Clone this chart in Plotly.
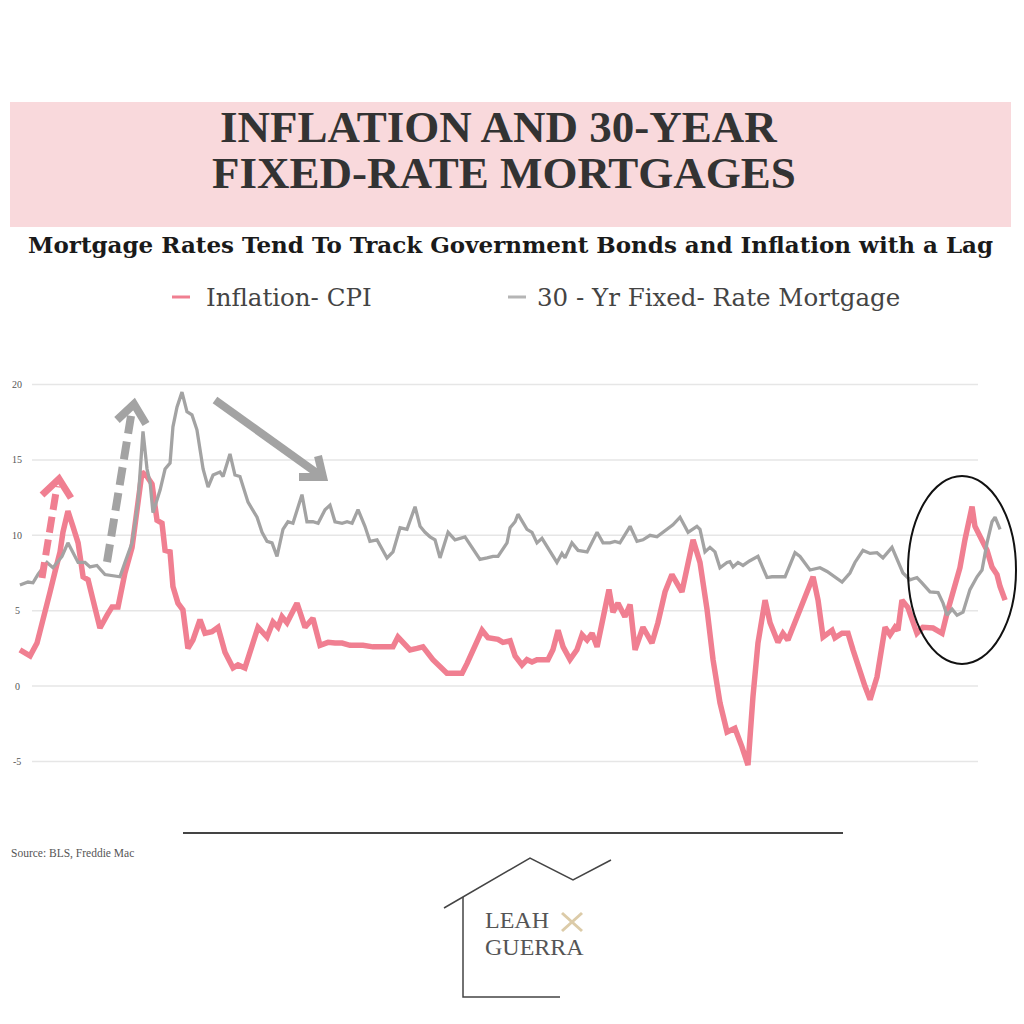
import plotly.graph_objects as go

# ---------------- data ----------------
cpi_year = [1971.10, 1971.63, 1971.99, 1972.25, 1972.41, 1972.67, 1972.93, 1973.19, 1973.34, 1973.60,
            1973.86, 1974.13, 1974.39, 1974.65, 1974.91, 1975.27, 1975.64, 1975.90, 1976.21, 1976.57,
            1976.94, 1977.09, 1977.25, 1977.46, 1977.72, 1977.98, 1978.24, 1978.50, 1978.66, 1978.92,
            1979.07, 1979.33, 1979.59, 1979.85, 1980.11, 1980.48, 1980.74, 1981.10, 1981.42, 1981.78,
            1982.20, 1982.46, 1982.82, 1983.19, 1983.50, 1983.97, 1984.28, 1984.54, 1984.75, 1985.01,
            1985.53, 1985.95, 1986.36, 1986.73, 1987.15, 1987.51, 1987.88, 1988.29, 1988.97, 1989.49,
            1990.53, 1990.79, 1991.05, 1991.42, 1991.78, 1992.09, 1992.61, 1993.34, 1993.76, 1994.13,
            1994.39, 1994.70, 1995.17, 1995.48, 1996.00, 1996.26, 1996.63, 1996.89, 1997.25, 1997.51,
            1997.77, 1998.03, 1998.60, 1998.86, 1999.13, 1999.39, 1999.75, 2000.11, 2000.38, 2000.64,
            2000.90, 2001.16, 2001.47, 2001.78, 2001.99, 2002.25, 2002.61, 2002.88, 2003.14, 2003.55,
            2004.02, 2004.33, 2004.70, 2005.06, 2005.58, 2005.90, 2006.16, 2006.52, 2006.89, 2007.20,
            2007.56, 2007.93, 2008.34, 2008.71, 2009.02, 2009.28, 2009.54, 2009.91, 2010.17, 2010.58,
            2010.84, 2011.10, 2011.57, 2011.99, 2012.41, 2012.67, 2012.93, 2013.40, 2013.55, 2013.92,
            2014.23, 2014.49, 2014.85, 2015.11, 2015.38, 2015.74, 2016.16, 2016.42, 2016.68, 2016.83,
            2017.04, 2017.35, 2017.82, 2018.13, 2018.66, 2019.13, 2019.39, 2019.70, 2020.06, 2020.32,
            2020.69, 2020.84, 2021.21, 2021.47, 2021.73, 2021.99, 2022.15, 2022.41]
cpi_value = [2.4, 2.0, 2.85, 4.05, 5.05, 6.25, 7.6, 8.9, 10.2, 11.6,
             10.6, 9.5, 7.25, 7.05, 5.7, 3.85, 4.7, 5.25, 5.25, 7.5,
             9.2, 10.6, 12.2, 14.2, 13.9, 13.4, 11.0, 10.8, 9.0, 8.9,
             6.6, 5.5, 5.05, 2.5, 3.05, 4.4, 3.5, 3.6, 3.9, 2.25,
             1.2, 1.4, 1.2, 2.85, 3.9, 3.25, 4.25, 3.9, 4.6, 4.2,
             5.5, 3.9, 4.5, 2.7, 2.9, 2.85, 2.85, 2.7, 2.7, 2.6,
             2.6, 3.25, 2.85, 2.4, 2.5, 2.6, 1.75, 0.85, 0.85, 0.85,
             1.5, 2.4, 3.7, 3.2, 3.1, 2.9, 3.0, 2.0, 1.4, 1.75,
             1.6, 1.75, 1.75, 2.4, 3.7, 2.6, 1.75, 2.4, 3.4, 3.05,
             3.5, 2.6, 4.7, 6.4, 4.9, 5.5, 4.6, 5.4, 2.4, 3.9,
             2.85, 4.2, 6.25, 7.4, 6.25, 8.3, 9.7, 8.2, 5.05, 1.75,
             -1.1, -3.05, -2.8, -4.05, -5.25, -0.7, 2.85, 5.7, 4.2, 2.9,
             3.5, 3.05, 4.5, 5.85, 7.25, 5.7, 3.25, 3.7, 3.2, 3.5,
             3.5, 2.4, 0.9, 0.0, -0.9, 0.6, 3.9, 3.4, 3.9, 3.7,
             5.7, 5.2, 3.5, 3.9, 3.85, 3.5, 4.85, 6.4, 7.85, 9.7,
             11.9, 10.6, 9.6, 9.0, 7.9, 7.4, 6.6, 5.7]

mort_year = [1971.10, 1971.52, 1971.78, 1972.04, 1972.51, 1972.82, 1973.29, 1973.60, 1974.13, 1974.49,
             1974.75, 1975.11, 1975.53, 1975.95, 1976.31, 1976.57, 1976.94, 1977.09, 1977.25, 1977.51,
             1977.72, 1977.88, 1978.03, 1978.40, 1978.66, 1978.92, 1979.07, 1979.28, 1979.54, 1979.80,
             1980.06, 1980.32, 1980.64, 1980.90, 1981.16, 1981.52, 1981.68, 1982.04, 1982.30, 1982.56,
             1982.98, 1983.45, 1983.71, 1983.97, 1984.23, 1984.49, 1984.80, 1985.06, 1985.32, 1985.79,
             1986.05, 1986.36, 1986.63, 1986.99, 1987.25, 1987.51, 1987.88, 1988.14, 1988.40, 1988.71,
             1989.07, 1989.33, 1989.70, 1990.22, 1990.53, 1990.90, 1991.26, 1991.68, 1991.94, 1992.20,
             1992.46, 1992.72, 1992.98, 1993.40, 1993.76, 1994.28, 1994.65, 1995.06, 1995.43, 1995.74,
             1996.00, 1996.47, 1996.63, 1996.89, 1997.04, 1997.51, 1997.77, 1998.03, 1998.29, 1998.60,
             1999.07, 1999.33, 1999.49, 1999.85, 2000.17, 2000.64, 2001.16, 2001.47, 2001.83, 2002.09,
             2002.35, 2002.88, 2003.24, 2003.55, 2003.92, 2004.28, 2004.59, 2005.11, 2005.48, 2005.90,
             2006.36, 2006.52, 2006.78, 2007.04, 2007.30, 2007.56, 2007.93, 2008.08, 2008.24, 2008.50,
             2008.76, 2009.10, 2009.54, 2010.01, 2010.27, 2010.95, 2011.47, 2011.73, 2012.25, 2012.77,
             2013.14, 2013.92, 2014.33, 2014.59, 2015.01, 2015.38, 2015.74, 2016.05, 2016.52, 2017.09,
             2017.46, 2017.82, 2018.08, 2018.50, 2018.92, 2019.18, 2019.39, 2019.65, 2019.91, 2020.22,
             2020.58, 2020.95, 2021.21, 2021.47, 2021.73, 2021.89, 2022.15]
mort_value = [6.7, 6.9, 6.85, 7.4, 8.2, 7.85, 8.6, 9.5, 8.2, 8.2,
              7.9, 8.0, 7.4, 7.3, 7.25, 8.2, 9.5, 10.8, 12.2, 16.9,
              14.4, 13.5, 11.5, 13.0, 14.4, 14.8, 17.2, 18.5, 19.5, 18.2,
              18.0, 17.0, 14.4, 13.2, 14.0, 14.2, 13.9, 15.4, 14.0, 13.9,
              12.2, 11.2, 10.2, 9.6, 9.5, 8.6, 10.4, 10.9, 10.8, 12.7,
              10.9, 10.9, 10.8, 11.7, 12.0, 10.9, 10.8, 10.9, 10.8, 11.7,
              10.6, 9.6, 9.7, 8.5, 8.9, 10.5, 10.4, 11.9, 10.6, 10.2,
              9.9, 9.7, 8.5, 10.2, 9.7, 9.9, 9.2, 8.4, 8.5, 8.6,
              8.6, 9.5, 10.5, 10.9, 11.4, 10.4, 10.2, 9.5, 9.8, 9.2,
              8.2, 8.8, 8.5, 9.5, 9.0, 8.9, 10.2, 9.5, 9.5, 9.6,
              9.5, 10.6, 9.6, 9.7, 10.0, 9.9, 10.2, 10.7, 11.2, 10.2,
              10.6, 10.4, 8.9, 9.2, 8.9, 7.85, 8.2, 8.25, 7.9, 8.2,
              8.0, 8.3, 8.6, 7.2, 7.25, 7.25, 8.85, 8.6, 7.7, 7.85,
              7.6, 6.9, 7.5, 8.2, 9.0, 8.8, 8.85, 8.5, 9.2, 7.5,
              7.05, 7.2, 6.85, 6.25, 6.2, 5.5, 4.7, 5.1, 4.7, 4.9,
              6.4, 7.25, 7.7, 9.5, 10.9, 11.2, 10.4]

y_ticks = [-5, 0, 5, 10, 15, 20]

title_lines = ["INFLATION AND 30-YEAR", "FIXED-RATE MORTGAGES"]
subtitle = "Mortgage Rates Tend To Track Government Bonds and Inflation with a Lag"
series_names = ["Inflation- CPI", "30 - Yr Fixed- Rate Mortgage"]
source_text = "Source: BLS, Freddie Mac"
logo_lines = ["LEAH", "GUERRA"]

# ---------------- style ----------------
PINK = "#F07F91"
GRAY = "#A3A3A3"
W = H = 1024


def fx(p):
    return p / W


def fy(p):
    return 1 - p / H


fig = go.Figure()
fig.add_trace(go.Scatter(x=cpi_year, y=cpi_value, mode="lines", name=series_names[0],
                         line=dict(color=PINK, width=5.5), showlegend=False, hoverinfo="skip"))
fig.add_trace(go.Scatter(x=mort_year, y=mort_value, mode="lines", name=series_names[1],
                         line=dict(color=GRAY, width=3.3), showlegend=False, hoverinfo="skip"))

shapes = []
annotations = []

# header band
shapes.append(dict(type="rect", xref="paper", yref="paper", x0=fx(10), x1=fx(1011), y0=fy(227), y1=fy(102),
                   fillcolor="#F9D9DC", line=dict(width=0), layer="below"))

# grid lines and tick labels
for t in y_ticks:
    shapes.append(dict(type="line", xref="paper", yref="y", x0=fx(32), x1=fx(978), y0=t, y1=t,
                       line=dict(color="#E6E6E6", width=1.5), layer="below"))
    annotations.append(dict(xref="paper", yref="y", x=fx(17), y=t, text=str(t), showarrow=False,
                            font=dict(family="Liberation Serif", size=10, color="#555555"),
                            xanchor="center", yanchor="middle"))


def seg(x0, y0, x1, y1, color, width, dash="solid"):
    return dict(type="line", xref="paper", yref="paper", x0=fx(x0), y0=fy(y0), x1=fx(x1), y1=fy(y1),
                line=dict(color=color, width=width, dash=dash))


def poly(points, color, width):
    d = "M " + " L ".join(f"{fx(a):.5f},{fy(b):.5f}" for a, b in points)
    return dict(type="path", xref="paper", yref="paper", path=d, line=dict(color=color, width=width))


# pink dashed arrow
shapes.append(seg(42, 578, 57, 486, PINK, 7, "16px,7px"))
shapes.append(poly([(42, 495), (59, 479), (71, 498)], PINK, 7))
# gray dashed arrow
shapes.append(seg(107, 562, 132, 410, GRAY, 8, "18px,8px"))
shapes.append(poly([(117, 420), (134, 404), (146, 424)], GRAY, 8))
# gray solid arrow
shapes.append(seg(215, 400, 321, 476, GRAY, 8))
shapes.append(poly([(299, 477), (323, 477), (318, 456)], GRAY, 8))
# ellipse
shapes.append(dict(type="circle", xref="paper", yref="paper", x0=fx(908), x1=fx(1016), y0=fy(664), y1=fy(476),
                   line=dict(color="#111111", width=2)))

# legend
shapes.append(seg(172, 297, 190, 297, PINK, 3))
shapes.append(seg(508, 297, 526, 297, "#B5B5B5", 3))
annotations.append(dict(xref="paper", yref="paper", x=fx(204), y=fy(297), text=series_names[0], showarrow=False,
                        xanchor="left", yanchor="middle",
                        font=dict(family="DejaVu Serif", size=24.5, color="#444444")))
annotations.append(dict(xref="paper", yref="paper", x=fx(535), y=fy(297), text=series_names[1], showarrow=False,
                        xanchor="left", yanchor="middle",
                        font=dict(family="DejaVu Serif", size=24.5, color="#444444")))

# title + subtitle
annotations.append(dict(xref="paper", yref="paper", x=fx(498), y=fy(127), text=title_lines[0], showarrow=False,
                        xanchor="center", yanchor="middle",
                        font=dict(family="Liberation Serif", size=45, color="#333333", weight="bold")))
annotations.append(dict(xref="paper", yref="paper", x=fx(504), y=fy(173), text=title_lines[1], showarrow=False,
                        xanchor="center", yanchor="middle",
                        font=dict(family="Liberation Serif", size=45, color="#333333", weight="bold")))
annotations.append(dict(xref="paper", yref="paper", x=fx(510), y=fy(244), text=subtitle, showarrow=False,
                        xanchor="center", yanchor="middle",
                        font=dict(family="DejaVu Serif", size=23, color="#1A1A1A", weight="bold")))

# footer
shapes.append(seg(183, 833, 843, 833, "#444444", 2))
annotations.append(dict(xref="paper", yref="paper", x=fx(9), y=fy(853), text=source_text, showarrow=False,
                        xanchor="left", yanchor="middle",
                        font=dict(family="Liberation Serif", size=11.5, color="#555555")))
# house logo
shapes.append(poly([(444, 908), (530, 858), (573, 880), (611, 860)], "#444444", 1.5))
shapes.append(poly([(463, 897), (463, 997), (560, 997)], "#444444", 1.5))
annotations.append(dict(xref="paper", yref="paper", x=fx(483), y=fy(920), text=logo_lines[0], showarrow=False,
                        xanchor="left", yanchor="middle",
                        font=dict(family="Liberation Serif", size=24, color="#555555")))
annotations.append(dict(xref="paper", yref="paper", x=fx(483), y=fy(947), text=logo_lines[1], showarrow=False,
                        xanchor="left", yanchor="middle",
                        font=dict(family="Liberation Serif", size=24, color="#555555")))
shapes.append(seg(562, 913, 582, 931, "#DCCBA8", 3))
shapes.append(seg(582, 913, 562, 931, "#DCCBA8", 3))

fig.update_layout(
    width=W, height=H, autosize=False,
    margin=dict(l=0, r=0, t=0, b=0),
    paper_bgcolor="white", plot_bgcolor="white",
    xaxis=dict(range=[1970.0625, 2023.396], visible=False, showgrid=False, zeroline=False, fixedrange=True),
    yaxis=dict(range=[-6.5, 21.5], domain=[1 - 784 / 1024, 1 - 362 / 1024], visible=False,
               showgrid=False, zeroline=False, fixedrange=True),
    shapes=shapes, annotations=annotations, showlegend=False,
)

fig.write_html("out.html", config={"displayModeBar": False},
               post_script="document.body.style.margin='0';")
